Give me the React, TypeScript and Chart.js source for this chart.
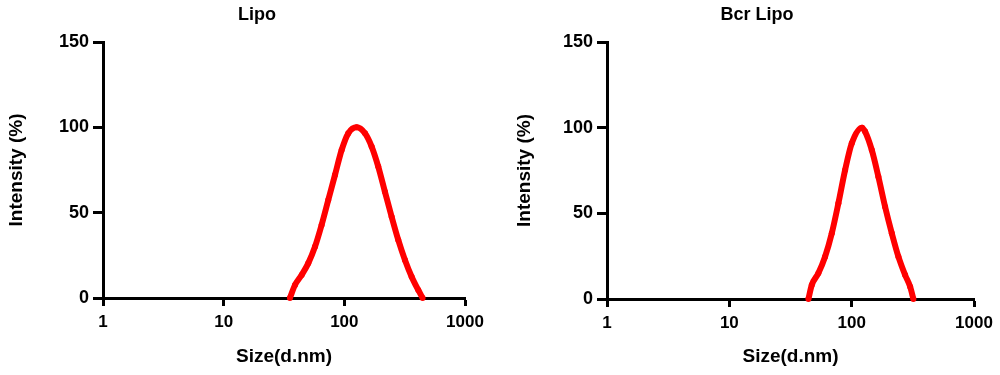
import React, { useEffect, useRef } from "react";
import { Chart, registerables } from "chart.js";

Chart.register(...registerables);

const xTickValues = [1, 10, 100, 1000];
const yTickValues = [0, 50, 100, 150];

const lipoTitle = "Lipo";
const lipoSizes = [35.4, 39.0, 44.3, 50.2, 57.1, 64.8, 73.6, 83.6, 95.0, 107.8, 126.5, 148.3, 168.4, 191.0, 216.9, 246.6, 279.8, 317.9, 361.2, 409.7, 445.4];
const lipoIntensity = [0, 7.6, 13.5, 20.3, 30, 42.8, 57.4, 72, 86.7, 96.5, 100, 96.5, 88.7, 77, 62.3, 47.6, 34, 22.3, 12.5, 4.7, 0];

const bcrTitle = "Bcr Lipo";
const bcrSizes = [44.3, 47.2, 53.4, 60.6, 68.8, 77.9, 88.4, 100.2, 121.6, 128.8, 146, 165.3, 187.5, 212.8, 241, 273.5, 300.6, 319.5];
const bcrIntensity = [0, 8.2, 15, 24.7, 38.4, 55.9, 75.3, 90.9, 100, 97.7, 87, 71.4, 53.9, 38.4, 24.7, 14, 7.2, 0];

const xTitle = "Size(d.nm)";
const yTitle = "Intensity (%)";

const FONT = "'Liberation Sans', Arial, Helvetica, sans-serif";

type PanelProps = {
  title: string;
  sizes: number[];
  values: number[];
  left: number;
  width: number;
  axisWidth: number;
  rightPad: number;
  yTitlePad: number;
  xAxisHeight: number;
};

function Panel(p: PanelProps) {
  const ref = useRef<HTMLCanvasElement | null>(null);
  useEffect(() => {
    if (!ref.current) return;
    const data = p.sizes.map((s, i) => ({ x: s, y: p.values[i] }));
    const chart = new Chart(ref.current, {
      type: "line",
      data: {
        datasets: [
          {
            data,
            borderColor: "#ff0000",
            backgroundColor: "#ff0000",
            borderWidth: 6,
            pointRadius: 3,
            pointBorderWidth: 0,
            pointStyle: "circle",
            cubicInterpolationMode: "monotone",
            fill: false,
            clip: false,
          },
        ],
      },
      options: {
        animation: false,
        responsive: false,
        devicePixelRatio: 1,
        layout: { padding: 0 },
        plugins: {
          legend: { display: false },
          tooltip: { enabled: false },
          title: {
            display: true,
            text: p.title,
            color: "#000",
            font: { family: FONT, size: 18, weight: "bold", lineHeight: 1.2 },
            padding: { top: 4.2, bottom: 16.2 },
          },
        },
        scales: {
          x: {
            type: "logarithmic",
            position: "bottom",
            min: 1,
            max: 1000,
            afterBuildTicks: (s: any) => {
              s.ticks = xTickValues.map((v) => ({ value: v }));
            },
            afterFit: (s: any) => {
              s.height = p.xAxisHeight;
            },
            ticks: {
              color: "#000",
              font: { family: FONT, size: 17, weight: "bold", lineHeight: 1.2 },
              padding: 6,
              autoSkip: false,
              maxRotation: 0,
              callback: (v: any) => String(v),
            },
            grid: {
              display: true,
              drawOnChartArea: false,
              drawTicks: true,
              tickLength: 8,
              tickWidth: 3,
              tickColor: "#000",
            },
            border: { display: true, color: "#000", width: 3 },
            title: {
              display: true,
              text: xTitle,
              color: "#000",
              font: { family: FONT, size: 19, weight: "bold", lineHeight: 1.2 },
              padding: { top: 0, bottom: 6.6 },
            },
          },
          y: {
            type: "linear",
            position: "left",
            min: 0,
            max: 150,
            afterBuildTicks: (s: any) => {
              s.ticks = yTickValues.map((v) => ({ value: v }));
            },
            afterFit: (s: any) => {
              s.width = p.axisWidth;
            },
            ticks: {
              color: "#000",
              font: { family: FONT, size: 18, weight: "bold", lineHeight: 1.2 },
              padding: 4,
            },
            grid: {
              display: true,
              drawOnChartArea: false,
              drawTicks: true,
              tickLength: 10,
              tickWidth: 3,
              tickColor: "#000",
            },
            border: { display: true, color: "#000", width: 3 },
            title: {
              display: true,
              text: yTitle,
              color: "#000",
              font: { family: FONT, size: 19, weight: "bold", lineHeight: 1.2 },
              padding: { top: p.yTitlePad, bottom: 0 },
            },
          },
          yR: {
            type: "linear",
            position: "right",
            display: true,
            afterFit: (s: any) => {
              s.width = p.rightPad;
            },
            ticks: { display: false },
            grid: { display: false, drawTicks: false },
            border: { display: false },
          },
        },
      },
    } as any);
    return () => chart.destroy();
  }, []);
  return (
    <canvas
      ref={ref}
      width={p.width}
      height={375}
      style={{ position: "absolute", left: p.left, top: 0, width: p.width, height: 375 }}
    />
  );
}

export default function App() {
  return (
    <div
      style={{
        position: "fixed",
        left: 0,
        top: 0,
        width: 1000,
        height: 375,
        overflow: "hidden",
        background: "#fff",
      }}
    >
      <Panel
        title={lipoTitle}
        sizes={lipoSizes}
        values={lipoIntensity}
        left={0}
        width={514}
        axisWidth={103}
        rightPad={49}
        yTitlePad={5.6}
        xAxisHeight={77}
      />
      <Panel
        title={bcrTitle}
        sizes={bcrSizes}
        values={bcrIntensity}
        left={500}
        width={514}
        axisWidth={107}
        rightPad={40}
        yTitlePad={13.6}
        xAxisHeight={76}
      />
    </div>
  );
}
